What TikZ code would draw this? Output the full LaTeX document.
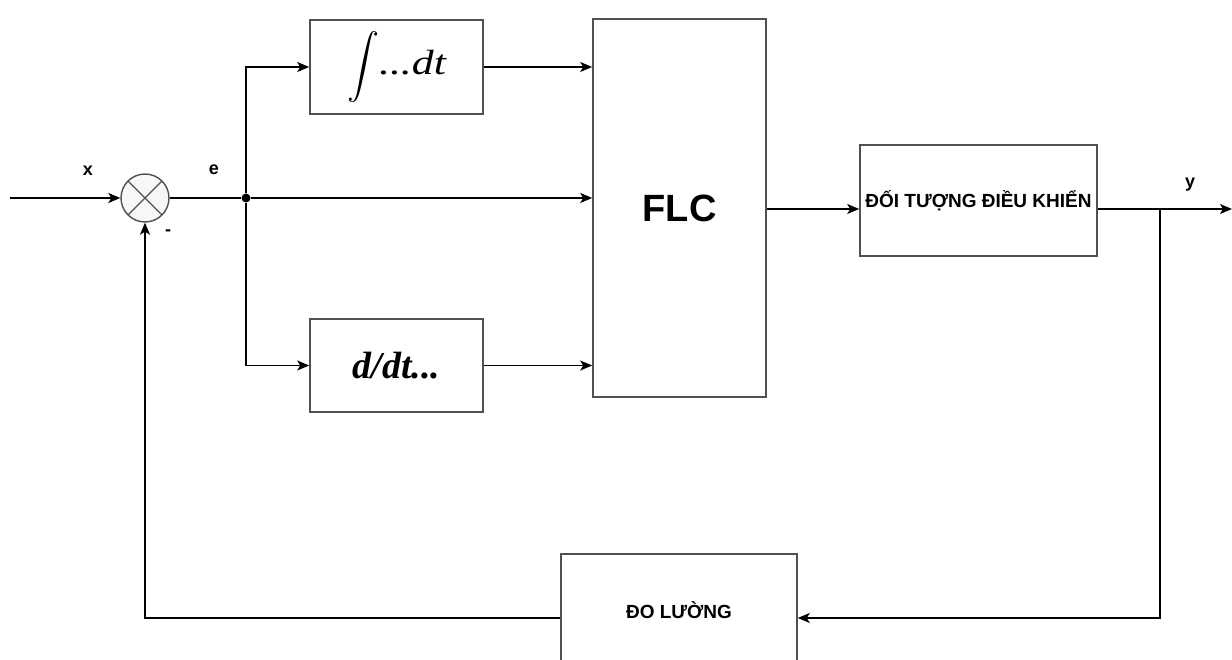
\documentclass[tikz,border=0pt]{standalone}
\usepackage{fontspec}
\setmainfont{Liberation Serif}
\setsansfont{Liberation Sans}
\usepackage{graphicx}
\usepackage{tikz}
\usetikzlibrary{arrows.meta,positioning,calc}
\definecolor{edge}{RGB}{80,80,80}
\tikzset{
  blk/.style={draw=edge,line width=1.6pt,fill=white,align=center,inner sep=2pt},
  sumc/.style={draw=edge,line width=1.4pt,circle,fill=gray!6,minimum size=48pt,inner sep=0pt,
    path picture={\draw[edge,line width=1.2pt] (path picture bounding box.north west) -- (path picture bounding box.south east)
      (path picture bounding box.north east) -- (path picture bounding box.south west);}},
  dot/.style={circle,fill=black,minimum size=9pt,inner sep=0pt},
  arr/.style={-{Stealth[length=12pt,width=10pt,inset=3pt]},line width=1.4pt},
  wire/.style={line width=1.4pt},
  lbl/.style={font=\sffamily\bfseries\fontsize{18}{18}\selectfont},
  tag/.style={font=\sffamily\bfseries\fontsize{19}{19}\selectfont}
}
\begin{document}
\begin{tikzpicture}[x=1pt,y=-1pt]
\useasboundingbox (0,0) rectangle (1232,660);
% blocks
\node[sumc] (sum) at (145,198) {};
\node[dot] (j) at (246,198) {};
\node[blk,minimum width=173pt,minimum height=94pt] (int) at (396.5,67)
  {\scalebox{3.2}{$\displaystyle\int$}\scalebox{1.25}[1]{\fontsize{35}{35}\selectfont\itshape ...dt}};
\node[blk,minimum width=173pt,minimum height=93pt] (dif) at (396.5,365.5) {\fontsize{38}{38}\selectfont\bfseries\itshape d/dt...};
\node[blk,minimum width=173pt,minimum height=378pt] (flc) at (679.5,208) {\sffamily\bfseries\fontsize{38}{38}\selectfont FLC};
\node[tag,blk,minimum width=237pt,minimum height=111pt] (plant) at (978.5,200.5) {ĐỐI TƯỢNG ĐIỀU KHIỂN};
\node[tag,blk,minimum width=236pt,minimum height=112pt] (meas) at (679,610) {ĐO LƯỜNG};
\coordinate (in) at (10,198);
\coordinate (br) at (1160,209);
\coordinate (out) at (1232,209);
\coordinate (fb) at (1160,618);
% labels
\node[lbl] (lx) at (88,171) {x};
\node[lbl] (le) at (214,170) {e};
\node[lbl] (ly) at (1190,185) {y};
\node[lbl] (lm) at (168,233) {-};
% connectors
\draw[arr] (in) -- (sum.west);
\draw[wire] (sum.east) -- (j);
\draw[arr] (j) |- (int.west);
\draw[arr] (j) |- (dif.west);
\draw[arr] (j) -- (j -| flc.west);
\draw[arr] (int.east) -- (int.east -| flc.west);
\draw[arr] (dif.east) -- (dif.east -| flc.west);
\draw[arr] (flc.east |- br) -- (plant.west |- br);
\draw[arr] (plant.east |- br) -- (out);
\draw[arr] (br) -- (fb) -- (fb -| meas.east);
\draw[arr] (meas.west |- fb) -| (sum.south);
\end{tikzpicture}
\end{document}
